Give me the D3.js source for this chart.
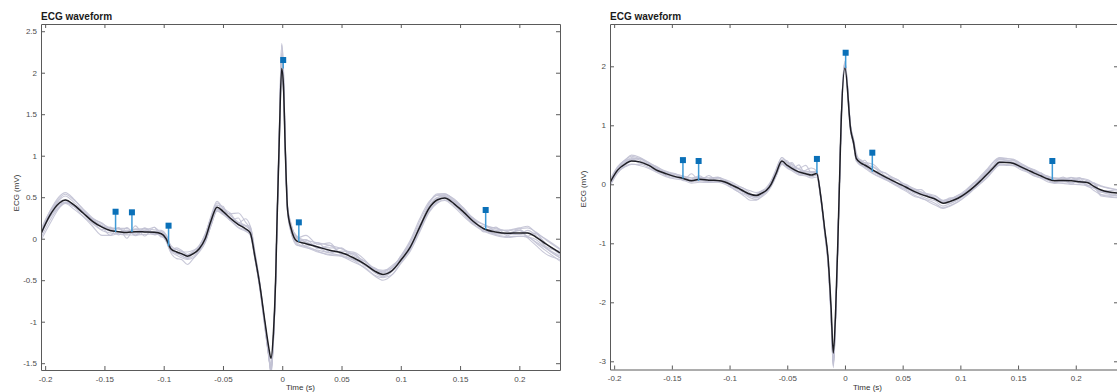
<!DOCTYPE html>
<html>
<head>
<meta charset="utf-8">
<script src="https://cdn.jsdelivr.net/npm/d3@7"></script>
<style>
  body { margin: 0; background: #fff; }
  svg { display: block; font-family: "Liberation Sans", Arial, sans-serif; }
  .tick text { fill: #4d4d4d; font-size: 8px; }
  .domain, .tick line { stroke: #5a5a5a; stroke-width: 1; }
</style>
</head>
<body>
<svg id="chart" width="1117" height="392"></svg>
<script>
// ---- shared tick labels ----
const xTicks = [-0.2, -0.15, -0.1, -0.05, 0, 0.05, 0.1, 0.15, 0.2];
const yTicksL = [-1.5, -1, -0.5, 0, 0.5, 1, 1.5, 2, 2.5];
const yTicksR = [-3, -2, -1, 0, 1, 2];

// ---- left panel: mean beat (s, mV) ----
const timeL = [
  -0.2035, -0.196, -0.188, -0.183, -0.176, -0.168, -0.160, -0.152, -0.145, -0.138,
  -0.131, -0.124, -0.116, -0.108, -0.102, -0.098, -0.094, -0.089, -0.085, -0.080,
  -0.075, -0.070, -0.065, -0.060, -0.055, -0.050, -0.044, -0.037, -0.031, -0.027,
  -0.023, -0.019, -0.0146, -0.0115, -0.0095, -0.0075, -0.0055, -0.0045, -0.0025, -0.0005,
  0.001, 0.0025, 0.0045, 0.0075, 0.0125, 0.020, 0.030, 0.040, 0.050, 0.060,
  0.070, 0.078, 0.085, 0.093, 0.100, 0.108, 0.116, 0.124, 0.131, 0.137,
  0.145, 0.153, 0.161, 0.170, 0.180, 0.190, 0.200, 0.207, 0.214, 0.222, 0.2343
];
const meanL = [
  0.06, 0.28, 0.43, 0.465, 0.41, 0.31, 0.21, 0.14, 0.10, 0.085,
  0.075, 0.085, 0.082, 0.078, 0.06, 0.0, -0.12, -0.16, -0.18, -0.21,
  -0.18, -0.12, 0.0, 0.22, 0.38, 0.33, 0.25, 0.17, 0.12, 0.07,
  -0.22, -0.55, -1.0, -1.30, -1.44, -1.15, -0.45, 0.15, 1.20, 2.05,
  1.85, 1.10, 0.35, 0.12, -0.03, -0.06, -0.10, -0.14, -0.17, -0.23,
  -0.31, -0.39, -0.43, -0.38, -0.26, -0.10, 0.14, 0.37, 0.47, 0.49,
  0.42, 0.32, 0.21, 0.12, 0.08, 0.065, 0.07, 0.07, 0.02, -0.06, -0.17
];
// individual beats, as deviation from the mean at each time above (mV)
const beatDevL = [
  [0.06,0.05,0.06,0.07,0.06,0.05,0.04,0.04,0.03,0.03, 0.02,0.03,0.04,0.03,0.04,0.05,0.04,0.03,0.03,0.02,
   0.03,0.04,0.05,0.04,0.05,0.04,0.03,0.03,0.04,0.03, 0.02,0.0,-0.05,-0.1,-0.12,-0.05,0.0,0.02,0.1,0.28,
   0.2,0.08,0.04,0.05,0.05,0.04,0.05,0.06,0.05,0.04, 0.03,0.02,0.03,0.04,0.05,0.06,0.07,0.06,0.06,0.05,
   0.05,0.04,0.04,0.05,0.04,0.03,0.05,0.06,0.06,0.05,0.04],
  [-0.05,-0.06,-0.05,-0.04,-0.05,-0.04,-0.03,-0.04,-0.03,-0.03, -0.03,-0.04,-0.03,-0.02,-0.03,-0.02,-0.03,-0.04,-0.05,-0.04,
   -0.05,-0.04,-0.05,-0.06,-0.05,-0.04,-0.03,-0.04,-0.03,-0.02, -0.03,-0.05,-0.08,-0.12,-0.16,-0.1,-0.05,-0.02,-0.05,-0.08,
   -0.05,-0.03,-0.02,-0.04,-0.04,-0.05,-0.04,-0.03,-0.04,-0.05, -0.04,-0.05,-0.04,-0.05,-0.04,-0.05,-0.06,-0.05,-0.04,-0.03,
   -0.04,-0.05,-0.04,-0.03,-0.04,-0.05,-0.04,-0.05,-0.06,-0.05,-0.04],
  [-0.02,0.01,0.02,0.0,-0.02,0.0,-0.02,0.0,-0.06,0.05, -0.07,0.07,-0.05,0.06,-0.04,0.03,0.01,-0.02,0.0,0.01,
   0.0,-0.01,0.02,0.03,0.02,0.06,-0.03,0.08,-0.02,0.06, 0.04,0.02,-0.03,-0.06,-0.2,-0.1,-0.04,0.0,0.05,0.15,
   0.1,0.05,0.0,0.02,0.04,-0.03,0.05,-0.02,0.06,-0.02, 0.04,-0.01,0.02,0.0,0.01,-0.02,0.01,0.03,0.02,0.0,
   0.01,-0.01,0.04,-0.04,0.06,-0.03,0.05,-0.04,0.05,-0.03,0.02],
  [0.03,0.05,0.08,0.09,0.07,0.04,0.02,0.01,0.02,0.0, 0.01,0.02,0.0,0.01,0.02,0.04,0.02,0.0,-0.03,-0.02,
   0.0,0.01,0.04,0.06,0.07,0.04,0.06,0.01,0.03,0.04, 0.0,-0.03,-0.04,-0.08,-0.18,-0.12,-0.02,0.01,0.08,0.3,
   0.22,0.07,0.02,-0.02,-0.01,0.05,-0.02,0.06,-0.01,0.05, -0.02,0.04,0.0,0.03,0.04,0.02,0.0,0.06,0.07,0.05,
   0.03,0.02,0.01,0.0,0.02,-0.01,0.03,0.0,0.04,0.01,-0.02],
  [-0.08,-0.1,-0.06,-0.03,-0.02,0.0,0.01,0.0,-0.01,0.0, -0.02,-0.01,0.0,-0.01,-0.02,-0.03,-0.05,-0.08,-0.07,-0.1,
   -0.06,-0.03,-0.02,-0.02,0.0,-0.02,-0.01,0.0,0.0,-0.01, -0.02,-0.03,-0.06,-0.1,-0.12,-0.05,0.0,0.0,-0.04,-0.1,
   -0.06,-0.03,-0.03,-0.05,-0.05,-0.03,-0.05,-0.06,-0.04,-0.03, -0.05,-0.06,-0.07,-0.05,-0.03,-0.02,0.0,0.02,0.03,0.02,
   0.0,-0.02,-0.01,0.0,-0.02,-0.01,-0.02,-0.04,-0.07,-0.08,-0.1],
  [0.02,0.03,0.04,0.05,0.03,0.02,0.03,0.05,0.02,0.04, 0.0,0.03,0.02,0.06,0.0,0.03,0.0,-0.02,-0.01,0.0,
   0.02,0.03,0.06,0.04,0.03,0.02,0.04,0.02,0.12,0.08, 0.02,-0.01,-0.02,-0.04,-0.08,-0.03,0.0,0.03,0.0,-0.04,
   0.0,0.02,0.02,0.01,0.03,0.02,0.0,0.03,0.05,0.02, 0.04,0.03,0.05,0.03,0.05,0.08,0.1,0.08,0.05,0.03,
   0.02,0.04,0.02,0.05,0.02,0.04,0.06,0.08,0.05,0.06,0.05],
  [0.0,-0.02,-0.02,-0.03,-0.01,0.0,0.02,0.02,0.03,0.04, 0.05,-0.02,0.04,-0.03,0.0,-0.02,-0.02,-0.01,-0.02,-0.03,
   -0.03,-0.02,-0.03,-0.02,-0.02,-0.02,-0.02,-0.03,-0.02,-0.03, -0.03,-0.02,-0.06,-0.1,-0.15,-0.08,-0.03,-0.01,0.03,0.12,
   0.08,0.03,-0.01,-0.02,-0.02,-0.04,-0.06,-0.05,-0.03,-0.02, -0.01,-0.02,-0.03,-0.01,-0.01,-0.03,-0.04,-0.03,-0.03,-0.02,
   -0.02,-0.03,-0.03,-0.02,-0.03,-0.04,-0.04,-0.05,-0.03,-0.05,-0.06],
  [0.0,0.02,0.0,-0.03,-0.02,-0.04,-0.06,-0.1,-0.06,-0.02, 0.03,-0.04,0.05,-0.02,0.03,0.02,0.0,0.03,0.02,0.05,
   0.04,0.02,-0.03,-0.05,-0.03,0.0,0.05,0.14,0.08,0.04, 0.0,-0.02,-0.03,-0.06,-0.1,-0.06,-0.02,0.0,0.02,0.06,
   0.04,0.02,0.03,0.06,0.04,0.1,0.03,0.09,-0.02,0.06, 0.0,0.02,0.04,0.06,0.03,0.0,-0.03,-0.04,-0.02,0.0,
   0.03,0.05,0.02,0.0,-0.02,0.0,0.03,-0.06,-0.1,-0.12,-0.08],
  [0.03,-0.02,-0.04,-0.02,0.0,0.02,0.0,-0.03,0.04,-0.04, 0.06,-0.05,0.02,-0.03,0.0,-0.01,-0.02,0.05,0.04,0.02,
   0.0,-0.02,-0.04,-0.06,-0.04,-0.03,0.0,0.02,0.04,0.08, 0.06,0.03,-0.04,-0.08,-0.14,-0.06,-0.02,0.01,0.0,0.18,
   0.15,0.05,0.02,0.03,0.06,0.02,0.0,-0.03,0.02,0.07, 0.05,0.0,-0.02,0.0,0.03,0.05,0.03,0.0,0.02,0.04,
   0.06,0.04,-0.02,0.03,0.05,0.02,-0.02,0.03,0.02,-0.04,-0.06]
];
// annotation stems (time, marker value, stem foot on the curve)
const markerTimeL = [-0.1406, -0.1268, -0.0959, 0.0008, 0.014, 0.1716];
const markerValL = [0.325, 0.318, 0.157, 2.153, 0.197, 0.346];
const stemBaseL = [0.08, 0.08, -0.09, 2.05, -0.036, 0.113];

// ---- right panel ----
const timeR = [
  -0.2036, -0.197, -0.190, -0.185, -0.178, -0.170, -0.162, -0.155, -0.147, -0.140,
  -0.133, -0.126, -0.118, -0.110, -0.104, -0.098, -0.092, -0.087, -0.082, -0.077,
  -0.072, -0.068, -0.064, -0.060, -0.0546, -0.050, -0.046, -0.040, -0.034, -0.029,
  -0.0245, -0.021, -0.0175, -0.0145, -0.012, -0.0101, -0.008, -0.0062, -0.0045, -0.0035,
  0.0, 0.005, 0.0075, 0.0098, 0.014, 0.017, 0.0243, 0.0344, 0.046, 0.053,
  0.0604, 0.066, 0.0719, 0.078, 0.085, 0.091, 0.098, 0.105, 0.112, 0.118,
  0.124, 0.129, 0.134, 0.140, 0.1456, 0.152, 0.1586, 0.164, 0.170, 0.176,
  0.1817, 0.189, 0.196, 0.203, 0.2106, 0.216, 0.222, 0.2366
];
const meanR = [
  0.03, 0.24, 0.35, 0.395, 0.38, 0.32, 0.23, 0.18, 0.13, 0.10,
  0.06, 0.085, 0.07, 0.065, 0.04, -0.015, -0.07, -0.125, -0.17, -0.19,
  -0.15, -0.10, 0.0, 0.17, 0.395, 0.32, 0.27, 0.21, 0.18, 0.157,
  0.185, -0.20, -0.77, -1.28, -2.10, -2.86, -2.10, -1.00, 0.20, 0.92,
  1.97, 0.92, 0.70, 0.44, 0.36, 0.327, 0.24, 0.13, 0.017, -0.05,
  -0.125, -0.17, -0.21, -0.25, -0.32, -0.29, -0.237, -0.15, -0.04, 0.07,
  0.186, 0.29, 0.373, 0.37, 0.356, 0.30, 0.24, 0.19, 0.14, 0.09,
  0.06, 0.065, 0.06, 0.045, 0.027, -0.04, -0.097, -0.15
];
const beatDevR = [
  [0.05,0.06,0.07,0.08,0.06,0.05,0.05,0.04,0.05,0.04, 0.05,0.03,0.04,0.05,0.04,0.05,0.04,0.05,0.06,0.05,
   0.04,0.05,0.06,0.07,0.06,0.05,0.06,0.05,0.04,0.05, 0.04,0.03,0.0,-0.05,-0.1,-0.12,-0.05,0.0,0.02,0.05,
   0.12,0.06,0.05,0.04,0.05,0.04,0.05,0.06,0.05,0.04, 0.05,0.04,0.05,0.06,0.05,0.04,0.05,0.06,0.07,0.06,
   0.07,0.08,0.07,0.06,0.07,0.06,0.05,0.06,0.05,0.04, 0.05,0.04,0.05,0.06,0.05,0.06,0.07,0.06],
  [-0.06,-0.05,-0.04,-0.05,-0.06,-0.05,-0.04,-0.05,-0.04,-0.03, -0.04,-0.05,-0.04,-0.03,-0.04,-0.05,-0.06,-0.05,-0.06,-0.07,
   -0.06,-0.05,-0.04,-0.05,-0.06,-0.05,-0.04,-0.05,-0.04,-0.05, -0.06,-0.05,-0.08,-0.12,-0.18,-0.25,-0.15,-0.05,-0.02,-0.04,
   -0.06,-0.05,-0.04,-0.05,-0.04,-0.05,-0.06,-0.05,-0.04,-0.05, -0.06,-0.07,-0.06,-0.07,-0.08,-0.07,-0.06,-0.05,-0.04,-0.05,
   -0.06,-0.05,-0.04,-0.05,-0.04,-0.05,-0.04,-0.05,-0.04,-0.05, -0.04,-0.05,-0.06,-0.05,-0.06,-0.07,-0.08,-0.07],
  [0.0,0.02,0.04,0.06,0.03,0.0,0.02,-0.02,0.03,-0.03, 0.12,-0.03,0.08,-0.02,0.03,0.0,-0.02,0.0,-0.02,0.0,
   0.02,0.0,0.03,0.02,0.0,0.05,-0.02,0.12,-0.02,0.05, 0.0,0.0,-0.02,-0.04,-0.1,-0.18,-0.08,-0.02,0.0,0.02,
   0.05,0.02,0.04,-0.02,0.05,-0.03,0.06,-0.03,0.05,-0.02, 0.04,0.0,0.02,0.0,0.02,0.0,0.03,0.02,0.0,0.03,
   0.02,0.0,0.02,0.03,0.0,0.02,0.0,0.02,0.0,0.02, 0.0,0.06,-0.04,0.07,-0.05,0.06,-0.04,0.02],
  [0.02,0.04,0.07,0.1,0.08,0.05,0.03,0.02,0.0,0.01, 0.0,0.02,0.01,0.0,0.02,0.01,0.0,-0.02,-0.03,-0.02,
   0.0,0.02,0.04,0.06,0.06,0.05,0.08,0.04,0.02,0.03, 0.02,0.0,-0.03,-0.06,-0.12,-0.2,-0.1,-0.03,0.0,0.03,
   0.08,0.04,0.02,0.0,0.03,0.02,0.0,-0.02,0.0,0.02, 0.0,0.02,0.03,0.01,0.02,0.03,0.02,0.04,0.06,0.08,
   0.09,0.1,0.08,0.07,0.06,0.05,0.04,0.03,0.02,0.03, 0.02,0.01,0.02,0.0,0.01,-0.02,-0.03,-0.05],
  [-0.03,-0.04,-0.02,0.0,0.01,0.02,0.0,0.01,-0.01,0.0, -0.02,-0.01,-0.02,0.0,-0.02,-0.04,-0.06,-0.08,-0.1,-0.08,
   -0.05,-0.02,-0.01,0.0,-0.02,-0.03,-0.02,-0.01,0.0,-0.02, -0.03,-0.02,-0.05,-0.08,-0.15,-0.22,-0.12,-0.04,0.0,0.0,
   0.03,0.0,-0.02,-0.03,-0.04,-0.02,-0.05,-0.04,-0.06,-0.07, -0.08,-0.06,-0.08,-0.1,-0.09,-0.08,-0.06,-0.04,-0.03,-0.02,
   -0.02,-0.03,-0.02,-0.04,-0.03,-0.02,-0.03,-0.02,-0.03,-0.02, -0.04,0.02,-0.06,0.03,-0.07,-0.02,-0.1,-0.08],
  [0.04,0.03,0.01,0.02,0.05,0.03,0.06,0.02,0.04,0.03, 0.02,0.04,0.01,0.05,0.0,0.03,0.01,0.02,0.0,0.01,
   0.03,0.02,0.02,0.03,0.02,0.08,0.02,0.06,0.14,0.04, 0.03,0.0,-0.03,-0.05,-0.08,-0.12,-0.06,-0.02,0.0,0.02,
   0.06,0.04,0.06,0.1,0.02,0.08,-0.02,0.07,0.0,0.05, 0.02,0.04,0.02,0.05,0.03,0.04,0.05,0.02,0.04,0.03,
   0.04,0.03,0.05,0.04,0.02,0.03,0.04,0.02,0.03,0.05, 0.03,0.04,0.02,0.05,0.03,0.04,0.06,0.05],
  [-0.02,-0.03,-0.05,-0.06,-0.04,-0.03,-0.02,-0.03,-0.02,-0.01, 0.0,-0.02,-0.03,-0.02,-0.01,-0.02,-0.03,-0.02,-0.03,-0.04,
   -0.03,-0.02,-0.03,-0.04,-0.05,-0.03,-0.02,-0.03,-0.02,-0.03, -0.02,-0.03,-0.05,-0.07,-0.12,-0.15,-0.08,-0.03,-0.01,0.0,
   0.04,0.0,-0.02,-0.03,-0.02,-0.03,-0.02,-0.03,-0.02,-0.03, -0.02,-0.03,-0.04,-0.03,-0.05,-0.04,-0.03,-0.02,-0.03,-0.04,
   -0.05,-0.04,-0.05,-0.04,-0.03,-0.02,-0.03,-0.04,-0.03,-0.02, -0.03,-0.02,-0.03,-0.02,-0.04,-0.03,-0.02,-0.03],
  [0.0,0.03,0.06,0.03,-0.02,0.0,0.04,-0.03,0.05,-0.04, 0.03,0.06,-0.03,0.04,-0.02,0.02,0.0,-0.03,-0.02,0.02,
   0.04,0.02,-0.02,-0.04,-0.03,0.02,0.1,0.0,0.04,0.06, 0.02,0.0,-0.02,-0.04,-0.08,-0.1,-0.06,-0.02,0.0,0.04,
   0.1,0.03,0.0,0.05,-0.02,0.04,0.1,0.02,0.06,-0.02, 0.04,0.08,0.02,0.0,0.04,0.06,0.02,-0.03,0.0,0.04,
   0.06,0.02,0.0,0.03,0.05,0.02,0.0,0.03,0.05,0.02, 0.0,-0.02,0.05,0.02,-0.05,0.02,-0.08,-0.04],
  [-0.04,0.0,0.02,0.04,0.06,0.02,-0.02,0.04,0.0,0.03, 0.0,-0.03,0.02,0.06,0.02,-0.02,0.03,0.05,0.02,-0.03,
   -0.02,0.02,0.04,0.02,-0.04,0.0,0.04,-0.02,0.06,0.12, 0.04,-0.02,-0.04,-0.06,-0.14,-0.2,-0.1,-0.02,0.0,0.03,
   0.08,0.02,0.03,0.0,-0.04,0.02,-0.03,0.0,-0.04,0.02, -0.03,0.0,0.04,0.02,0.0,-0.03,0.0,0.04,0.06,0.02,
   0.0,0.04,0.06,0.03,0.0,-0.02,0.03,0.05,0.02,0.0, 0.04,0.0,0.06,-0.02,0.03,0.05,-0.02,0.06]
];
const markerTimeR = [-0.1404, -0.1268, -0.0243, 0.0006, 0.0237, 0.1797];
const markerValR = [0.41, 0.395, 0.43, 2.23, 0.536, 0.395];
const stemBaseR = [0.10, 0.06, 0.186, 1.97, 0.214, 0.073];

const svg = d3.select('#chart');
svg.append('rect').attr('width', 1117).attr('height', 392).attr('fill', '#fff');

const fmt = d => String(d);

function drawPanel(p) {
  const x = d3.scaleLinear().domain(p.xDomain).range([p.left, p.right]);
  const y = d3.scaleLinear().domain(p.yDomain).range([p.bottom, p.top]);
  const g = svg.append('g');

  const clipId = 'clip-' + p.id;
  g.append('clipPath').attr('id', clipId)
    .append('rect')
    .attr('x', p.left).attr('y', p.top)
    .attr('width', p.right - p.left).attr('height', p.bottom - p.top);

  const line = d3.line()
    .x(d => x(d[0]))
    .y(d => y(d[1]))
    .curve(d3.curveMonotoneX);

  const plot = g.append('g').attr('clip-path', `url(#${clipId})`);

  // individual beats
  plot.append('g')
    .selectAll('path')
    .data(p.beats)
    .join('path')
    .attr('d', dev => line(p.time.map((t, i) => [t, p.mean[i] + (dev[i] || 0)])))
    .attr('fill', 'none')
    .attr('stroke', '#c2c2d4')
    .attr('stroke-opacity', 0.9)
    .attr('stroke-width', 1.1);

  // mean beat
  plot.append('path')
    .attr('d', line(p.time.map((t, i) => [t, p.mean[i]])))
    .attr('fill', 'none')
    .attr('stroke', '#1e1e24')
    .attr('stroke-width', 1.5);

  // stems + square markers
  const marks = p.markT.map((t, i) => ({ t, v: p.markV[i], base: p.stemBase[i] }));
  plot.append('g')
    .selectAll('line')
    .data(marks)
    .join('line')
    .attr('x1', d => x(d.t)).attr('x2', d => x(d.t))
    .attr('y1', d => y(d.base)).attr('y2', d => y(d.v))
    .attr('stroke', '#3f9ad6')
    .attr('stroke-width', 1.5);
  plot.append('g')
    .selectAll('rect')
    .data(marks)
    .join('rect')
    .attr('x', d => x(d.t) - 3).attr('y', d => y(d.v) - 3)
    .attr('width', 6).attr('height', 6)
    .attr('fill', '#0a70b8');

  // box axes, ticks pointing inward
  g.append('g').attr('transform', `translate(0,${p.bottom})`)
    .call(d3.axisBottom(x).tickValues(xTicks).tickFormat(fmt)
      .tickSizeInner(-4).tickSizeOuter(0).tickPadding(6));
  g.append('g').attr('transform', `translate(0,${p.top})`)
    .call(d3.axisTop(x).tickValues(xTicks).tickFormat('')
      .tickSizeInner(-4).tickSizeOuter(0));
  g.append('g').attr('transform', `translate(${p.left},0)`)
    .call(d3.axisLeft(y).tickValues(p.yTicks).tickFormat(fmt)
      .tickSizeInner(-4).tickSizeOuter(0).tickPadding(4));
  g.append('g').attr('transform', `translate(${p.right},0)`)
    .call(d3.axisRight(y).tickValues(p.yTicks).tickFormat('')
      .tickSizeInner(-4).tickSizeOuter(0));

  // title and axis labels
  g.append('text')
    .attr('x', p.left).attr('y', 20)
    .attr('font-size', 10).attr('font-weight', 'bold').attr('fill', '#1a1a1a')
    .text('ECG waveform');
  g.append('text')
    .attr('transform', `translate(${p.ylabX},${p.ylabY}) rotate(-90)`)
    .attr('text-anchor', 'middle').attr('dy', '0.35em')
    .attr('font-size', 8).attr('fill', '#333')
    .text('ECG (mV)');
  g.append('text')
    .attr('x', (p.left + Math.min(p.right, 1117)) / 2 + p.xlabShift).attr('y', 390)
    .attr('text-anchor', 'middle')
    .attr('font-size', 8).attr('fill', '#333')
    .text('Time (s)');
}

drawPanel({
  id: 'l', left: 41, right: 560, top: 24, bottom: 370,
  xDomain: [-0.2035, 0.2343], yDomain: [-1.582, 2.587], yTicks: yTicksL,
  time: timeL, mean: meanL, beats: beatDevL,
  markT: markerTimeL, markV: markerValL, stemBase: stemBaseL,
  ylabX: 16, ylabY: 193, xlabShift: 0
});
drawPanel({
  id: 'r', left: 610, right: 1118, top: 24, bottom: 369.5,
  xDomain: [-0.2036, 0.2366], yDomain: [-3.139, 2.717], yTicks: yTicksR,
  time: timeR, mean: meanR, beats: beatDevR,
  markT: markerTimeR, markV: markerValR, stemBase: stemBaseR,
  ylabX: 583, ylabY: 189, xlabShift: 4
});
</script>
</body>
</html>
